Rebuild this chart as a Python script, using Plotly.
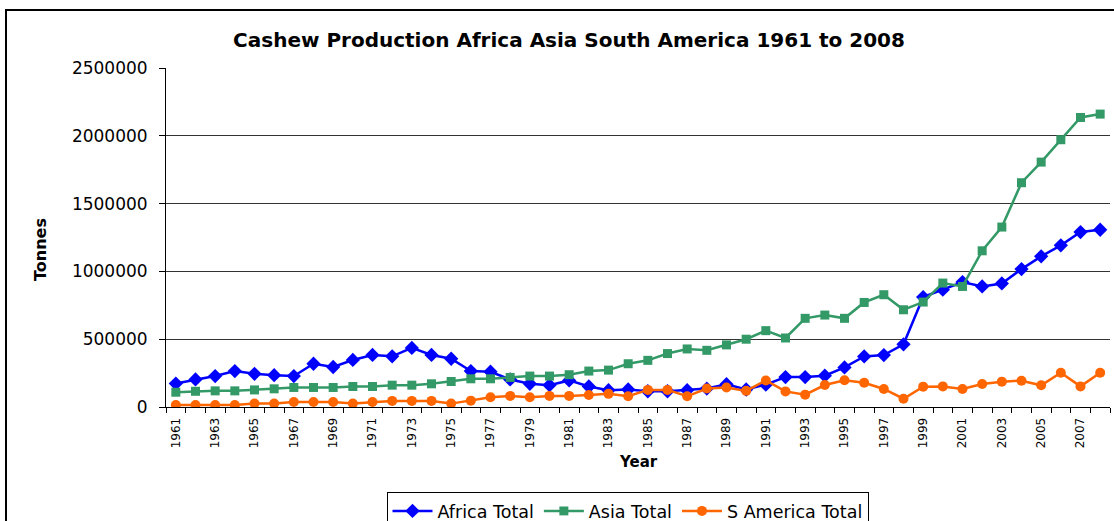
import plotly.graph_objects as go

years = list(range(1961, 2009))

africa = [173000, 203000, 228000, 265000, 245000, 235000, 228000, 319000, 295000, 347000,
          384000, 374000, 436000, 384000, 356000, 265000, 260000, 203000, 171000, 161000,
          196000, 151000, 124000, 129000, 116000, 116000, 124000, 136000, 168000, 129000,
          165000, 221000, 221000, 231000, 292000, 373000, 383000, 462000, 811000, 865000,
          921000, 889000, 911000, 1017000, 1111000, 1192000, 1290000, 1307000]

asia = [109000, 116000, 119000, 119000, 126000, 134000, 144000, 144000, 144000, 151000,
        151000, 161000, 161000, 171000, 188000, 208000, 208000, 218000, 228000, 228000,
        238000, 265000, 272000, 319000, 344000, 394000, 428000, 418000, 458000, 500000,
        563000, 509000, 654000, 678000, 654000, 771000, 828000, 717000, 774000, 914000,
        889000, 1152000, 1327000, 1654000, 1806000, 1971000, 2135000, 2160000]

samerica = [15000, 15000, 15000, 15000, 25000, 25000, 37000, 37000, 37000, 25000,
            37000, 45000, 45000, 45000, 25000, 47000, 72000, 82000, 72000, 82000,
            82000, 89000, 97000, 79000, 126000, 126000, 79000, 136000, 144000, 119000,
            196000, 115000, 91000, 162000, 197000, 179000, 133000, 61000, 150000, 152000,
            133000, 170000, 187000, 194000, 160000, 253000, 152000, 253000]

series_names = ["Africa Total", "Asia Total", "S America Total"]
tick_years = years[::2]
y_ticks = [0, 500000, 1000000, 1500000, 2000000, 2500000]

FONT = "DejaVu Sans, Liberation Sans, Arial, sans-serif"

W, H = 1114, 521
L, R, T, B = 166, 4, 68, 114
PW = W - L - R
PH = H - T - B


def px_x(px):
    return (px - L) / PW


def px_y(py):
    return (H - B - py) / PH


fig = go.Figure()
styles = [
    ("#0000FF", "diamond", 11),
    ("#339966", "square", 9),
    ("#FF6600", "circle", 10),
]
for name, vals, (col, sym, sz) in zip(series_names, [africa, asia, samerica], styles):
    fig.add_trace(go.Scatter(
        x=years, y=vals, name=name, mode="lines+markers",
        line=dict(color=col, width=2.5),
        marker=dict(color=col, symbol=sym, size=sz, line=dict(width=0)),
    ))

fig.update_layout(
    width=W, height=H,
    margin=dict(l=L, r=R, t=T, b=B, autoexpand=False),
    paper_bgcolor="white", plot_bgcolor="white",
    font=dict(family=FONT, color="black"),
    showlegend=True,
    title=dict(text="<b>Cashew Production Africa Asia South America 1961 to 2008</b>",
               x=569 / W, xanchor="center", xref="container",
               y=1 - 40 / H, yanchor="middle", yref="container",
               font=dict(size=20, family=FONT, color="black")),
    legend=dict(orientation="h", x=627.5 / W, xanchor="center", xref="container",
                y=1 - 492 / H, yanchor="top", yref="container",
                bordercolor="black", borderwidth=1, bgcolor="white",
                font=dict(size=17.5, family=FONT), tracegroupgap=0,
                itemwidth=40),
    xaxis=dict(
        range=[1960.5, 2008.5], showgrid=False, zeroline=False, automargin=False,
        showline=True, linecolor="black", linewidth=1,
        tickmode="array", tickvals=tick_years, ticktext=[str(y) for y in tick_years],
        tickangle=-90, ticks="outside", ticklen=5, tickcolor="rgba(0,0,0,0)",
        tickfont=dict(size=12, family=FONT),
        minor=dict(tick0=1960.5, dtick=1, ticks="outside", ticklen=5,
                   tickcolor="black", showgrid=False),
    ),
    yaxis=dict(
        range=[0, 2500000], tickmode="array", tickvals=y_ticks,
        ticktext=[str(v) for v in y_ticks], automargin=False,
        showgrid=True, gridcolor="#333333", gridwidth=1,
        zeroline=False, showline=True, linecolor="black", linewidth=1,
        ticks="outside", ticklen=6, tickcolor="black", ticklabelstandoff=8,
        tickfont=dict(size=17, family=FONT),
    ),
    annotations=[
        dict(text="<b>Year</b>", x=0.5, y=px_y(462), xref="paper", yref="paper",
             showarrow=False, xanchor="center", yanchor="middle",
             font=dict(size=15, family=FONT)),
        dict(text="<b>Tonnes</b>", x=px_x(40), y=px_y(250), xref="paper", yref="paper",
             showarrow=False, xanchor="center", yanchor="middle", textangle=-90,
             font=dict(size=16, family=FONT)),
    ],
    shapes=[
        dict(type="rect", xref="paper", yref="paper",
             x0=px_x(6), x1=px_x(1125), y0=px_y(530), y1=px_y(10),
             line=dict(color="black", width=2), fillcolor="rgba(0,0,0,0)", layer="below"),
    ],
)

fig.write_html("out.html")
